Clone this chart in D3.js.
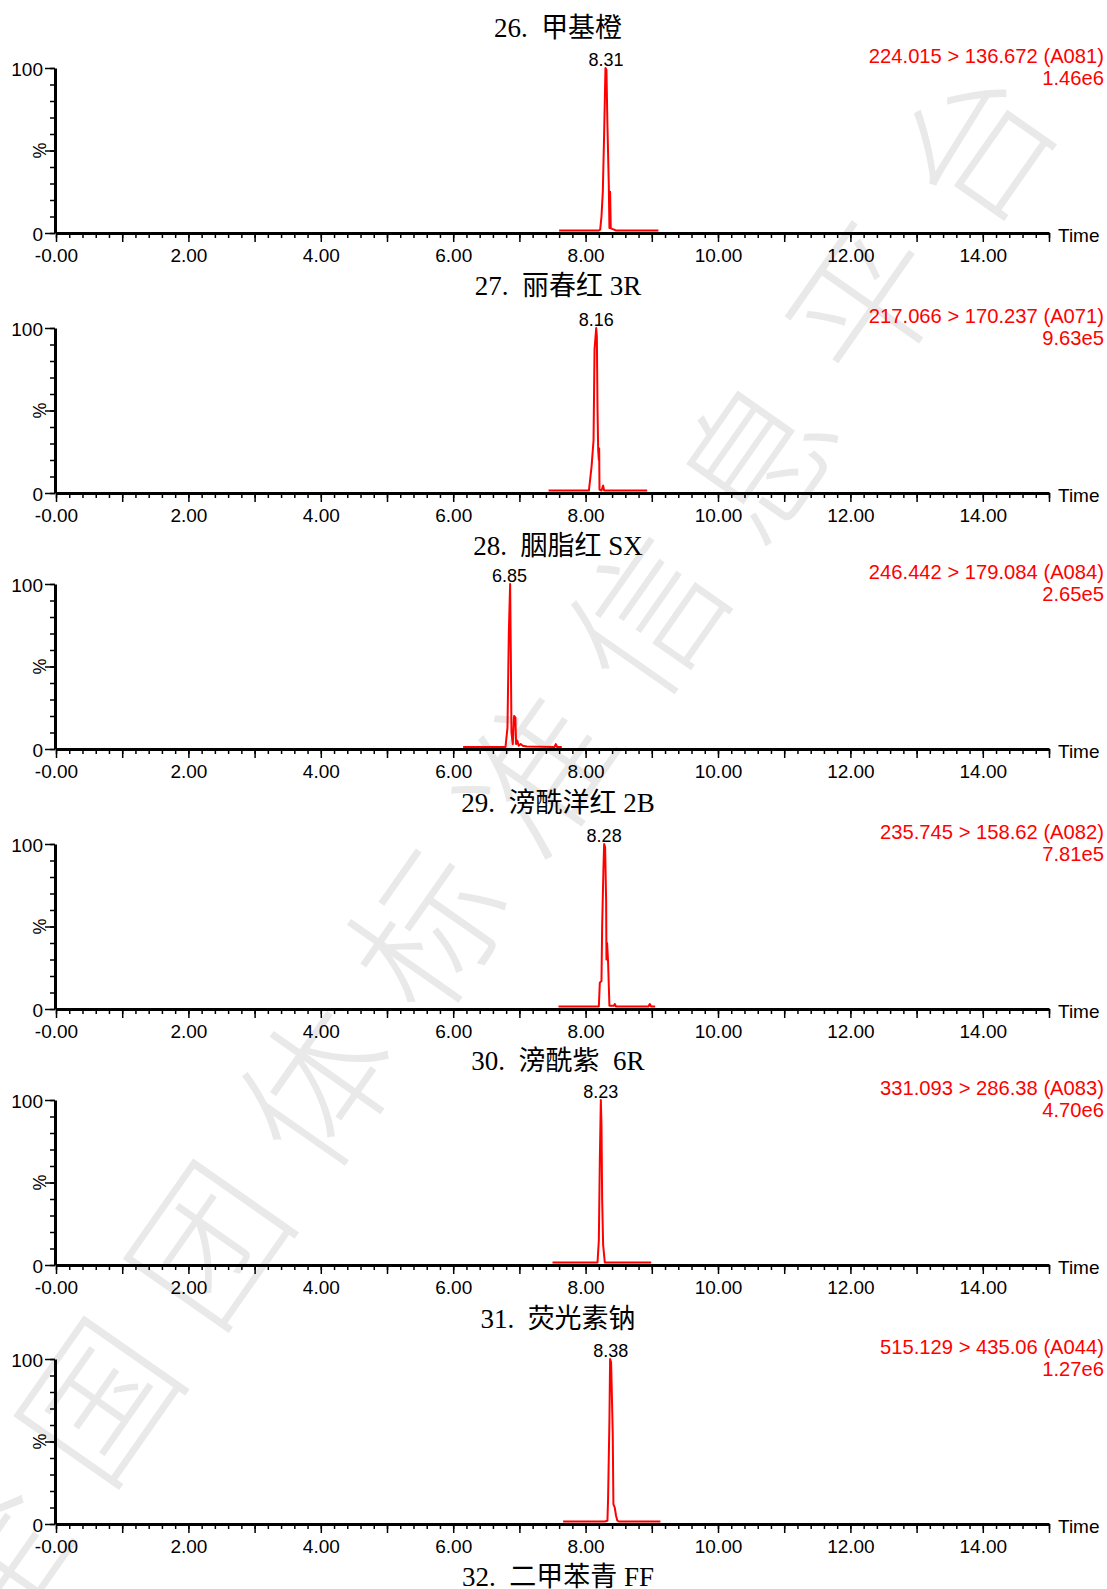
<!DOCTYPE html>
<html>
<head>
<meta charset="utf-8">
<script src="https://cdn.jsdelivr.net/npm/d3@7"></script>
<style>
  body { margin: 0; background: #fff; }
  svg { display: block; }
</style>
</head>
<body>
<div id="chart"></div>
<script>
// Chart data
var titles = ['26.  甲基橙', '27.  丽春红 3R', '28.  胭脂红 SX', '29.  滂酰洋红 2B',
    '30.  滂酰紫  6R', '31.  荧光素钠', '32.  二甲苯青 FF'];
var transitions = ['224.015 > 136.672 (A081)', '217.066 > 170.237 (A071)',
    '246.442 > 179.084 (A084)', '235.745 > 158.62 (A082)',
    '331.093 > 286.38 (A083)', '515.129 > 435.06 (A044)'];
var intensities = ['1.46e6', '9.63e5', '2.65e5', '7.81e5', '4.70e6', '1.27e6'];
var peakTimes = [8.31, 8.16, 6.85, 8.28, 8.23, 8.38];

// [time, %] points of each trace
var trace26 = [[7.60, 1.5], [8.20, 1.5], [8.22, 2], [8.24, 10], [8.26, 25], [8.28, 60],
    [8.30, 100], [8.315, 99], [8.33, 65], [8.35, 30], [8.36, 3], [8.37, 25], [8.38, 3],
    [8.40, 2.5], [8.43, 2], [8.46, 1.5], [9.10, 1.5]];
var trace27 = [[7.44, 1.5], [8.05, 1.5], [8.09, 16], [8.12, 32], [8.135, 87], [8.16, 100],
    [8.17, 95], [8.18, 51], [8.19, 26], [8.20, 20], [8.205, 27], [8.21, 2], [8.24, 1.5],
    [8.265, 4.5], [8.28, 1.5], [8.93, 1.5]];
var trace28 = [[6.15, 1.2], [6.79, 1.2], [6.82, 13], [6.84, 70], [6.86, 100], [6.87, 60],
    [6.88, 10], [6.90, 3], [6.92, 20], [6.94, 19], [6.95, 3], [6.97, 5], [6.99, 2],
    [7.02, 3], [7.05, 2], [7.11, 1.5], [7.53, 1.2], [7.55, 3], [7.57, 1.2], [7.64, 1.2]];
var trace29 = [[7.59, 1.5], [8.20, 1.5], [8.215, 16], [8.24, 17], [8.25, 50], [8.27, 86],
    [8.28, 100], [8.295, 98], [8.31, 66], [8.315, 30], [8.325, 40], [8.34, 28], [8.36, 2],
    [8.43, 2], [8.44, 3], [8.46, 1.5], [8.95, 1.5], [8.97, 3], [8.99, 1.5], [9.05, 1.5]];
var trace30 = [[7.50, 1.5], [8.18, 1.5], [8.20, 15], [8.215, 64], [8.23, 100], [8.24, 85],
    [8.25, 40], [8.265, 12], [8.29, 1.5], [8.99, 1.5]];
var trace31 = [[7.66, 1.5], [8.29, 1.5], [8.33, 2], [8.34, 16], [8.36, 63], [8.37, 100],
    [8.385, 98], [8.39, 90], [8.41, 55], [8.42, 12], [8.44, 10], [8.46, 5], [8.48, 2],
    [8.50, 1.5], [9.13, 1.5]];
var traces = [trace26, trace27, trace28, trace29, trace30, trace31];

var xTickLabels = ['-0.00', '2.00', '4.00', '6.00', '8.00', '10.00', '12.00', '14.00'];
var yTickLabels = ['0', '', '100'];
var watermark = '全国团体标准信息平台';

(function(d3) {
    'use strict';

    var width = 1107;
    var height = 1589;

    // Panel layout (baseline of each x axis, title baselines)
    var axisY = [233, 493, 749, 1009, 1265, 1524];
    var titleY = [37, 295, 555, 812, 1070, 1328, 1586];
    var plotH = 165;
    var red = '#ff0000';

    var svg = d3.select('#chart')
        .append('svg')
        .attr('width', width)
        .attr('height', height)
        .style('background', '#fff');

    // Watermark behind everything
    var step = [109.6, -157.1];
    var wm = svg.append('g').attr('class', 'watermark');
    watermark.split('').forEach(function(ch, i) {
        var cx = 475 + (i - 4.5) * step[0];
        var cy = 846 + (i - 4.5) * step[1];
        wm.append('text')
            .attr('transform', 'translate(' + cx + ',' + cy + ') rotate(-55)')
            .attr('text-anchor', 'middle')
            .attr('dominant-baseline', 'central')
            .style('font-family', "'Noto Sans CJK SC', sans-serif")
            .style('font-weight', 300)
            .style('font-size', '150px')
            .style('fill', '#e9e9e9')
            .text(ch);
    });

    var x = d3.scaleLinear().domain([0, 15]).range([56, 1049]);

    var line = d3.line()
        .x(function(d) { return x(d[0]); });

    // Titles
    svg.selectAll('.title')
        .data(titles)
        .enter()
        .append('text')
        .attr('class', 'title')
        .attr('x', 558)
        .attr('y', function(d, i) { return titleY[i]; })
        .attr('text-anchor', 'middle')
        .style('white-space', 'pre')
        .attr('xml:space', 'preserve')
        .style('font-family', "'Liberation Serif', 'Noto Sans CJK SC', serif")
        .style('font-size', '27px')
        .text(function(d) { return d; });

    traces.forEach(function(trace, i) {
        var g = svg.append('g').attr('class', 'panel');
        var y = d3.scaleLinear().domain([0, 100]).range([axisY[i], axisY[i] - plotH]);

        // minor x ticks
        g.append('g')
            .attr('transform', 'translate(0,' + axisY[i] + ')')
            .call(d3.axisBottom(x)
                .tickValues(d3.range(0, 76).map(function(k) { return k / 5; }))
                .tickSize(5)
                .tickSizeOuter(0)
                .tickFormat(''))
            .call(function(a) { a.select('.domain').remove(); });

        // major x ticks + labels
        var xa = g.append('g')
            .attr('transform', 'translate(0,' + axisY[i] + ')')
            .call(d3.axisBottom(x)
                .tickValues(d3.range(0, 16))
                .tickSize(9)
                .tickSizeOuter(0)
                .tickPadding(6.5)
                .tickFormat(function(d) {
                    return (d % 2 === 0 && d <= 14) ? xTickLabels[d / 2] : '';
                }));
        xa.select('.domain').attr('stroke-width', 3);

        // minor y ticks
        g.append('g')
            .attr('transform', 'translate(55,0)')
            .call(d3.axisLeft(y)
                .tickValues(d3.range(0, 101, 10))
                .tickSize(5)
                .tickSizeOuter(0)
                .tickFormat(''))
            .call(function(a) { a.select('.domain').remove(); });

        var ya = g.append('g')
            .attr('transform', 'translate(55,0)')
            .call(d3.axisLeft(y)
                .tickValues([0, 50, 100])
                .tickSize(10)
                .tickSizeOuter(0)
                .tickPadding(2)
                .tickFormat(function(d, k) { return yTickLabels[k]; }));
        ya.select('.domain').attr('stroke-width', 3);
        ya.selectAll('text').attr('dy', '0.38em');

        g.selectAll('.tick line').attr('stroke-width', 1.5);
        g.selectAll('.tick text')
            .style('font-family', "'Liberation Sans', Arial, sans-serif")
            .style('font-size', '19px')
            .attr('fill', '#000');

        // % label
        g.append('text')
            .attr('transform', 'translate(46,' + y(50) + ') rotate(-90)')
            .attr('text-anchor', 'middle')
            .style('font-family', "'Liberation Sans', Arial, sans-serif")
            .style('font-size', '18px')
            .text('%');

        // Time label
        g.append('text')
            .attr('x', 1058)
            .attr('y', axisY[i] + 9)
            .style('font-family', "'Liberation Sans', Arial, sans-serif")
            .style('font-size', '19px')
            .text('Time');

        // Transition + intensity, top right
        g.append('text')
            .attr('x', 1104)
            .attr('y', axisY[i] - 170.5)
            .attr('text-anchor', 'end')
            .style('font-family', "'Liberation Sans', Arial, sans-serif")
            .style('font-size', '20.2px')
            .style('fill', red)
            .text(transitions[i]);
        g.append('text')
            .attr('x', 1104)
            .attr('y', axisY[i] - 148.5)
            .attr('text-anchor', 'end')
            .style('font-family', "'Liberation Sans', Arial, sans-serif")
            .style('font-size', '20.2px')
            .style('fill', red)
            .text(intensities[i]);

        // Trace
        g.append('path')
            .datum(trace)
            .attr('d', line.y(function(d) { return y(d[1]); }))
            .attr('fill', 'none')
            .attr('stroke', red)
            .attr('stroke-width', 2)
            .attr('stroke-linejoin', 'round');

        // Peak label
        g.append('text')
            .attr('x', x(peakTimes[i]))
            .attr('y', y(100) - 2)
            .attr('text-anchor', 'middle')
            .style('font-family', "'Liberation Sans', Arial, sans-serif")
            .style('font-size', '18px')
            .text(peakTimes[i].toFixed(2));
    });

})(window.d3);
</script>
</body>
</html>
